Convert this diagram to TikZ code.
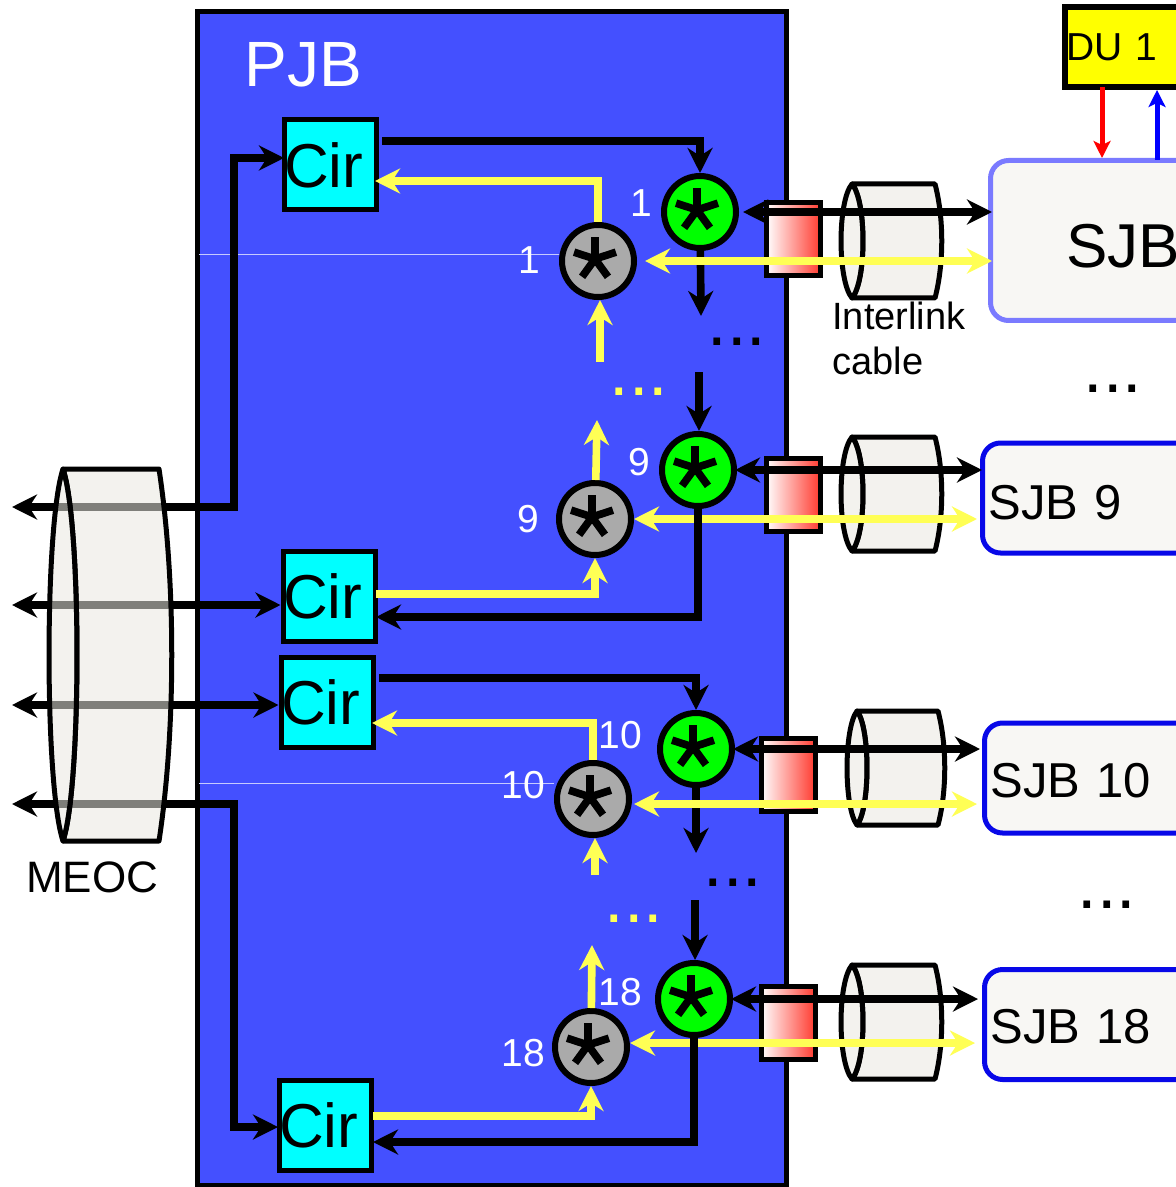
\documentclass[tikz,border=0pt]{standalone}
\usepackage{fontspec}
\setmainfont[WordSpace=0.55]{Liberation Sans}
\usetikzlibrary{arrows.meta}
\definecolor{pjbblue}{HTML}{4450FF}
\definecolor{hubgray}{HTML}{AAAAAA}
\definecolor{hubgreen}{HTML}{00FF00}
\definecolor{circyan}{HTML}{00FFFF}
\definecolor{duyellow}{HTML}{FFFF00}
\definecolor{sigyellow}{HTML}{FFFF55}
\definecolor{sjbsoft}{HTML}{7A7AFF}
\definecolor{sjbblue}{HTML}{0808E8}
\definecolor{boxwhite}{HTML}{F8F7F4}
\definecolor{cablefill}{HTML}{E9E8E0}
\definecolor{linkred}{HTML}{FF3B30}
\newcommand{\fsize}[1]{\fontsize{#1}{#1}\selectfont}
\tikzset{pics/cable/.style n args={4}{code={
    \path[cable body] (0,-#2) -- (#3,-#2) .. controls (#3+#4,-0.4*#2) and (#3+#4,0.4*#2) .. (#3,#2)
        -- (0,#2) .. controls (1.33*#1,0.7*#2) and (1.33*#1,-0.7*#2) .. (0,-#2) -- cycle;
    \path[cable body] (0,-#2) .. controls (-1.33*#1,-0.7*#2) and (-1.33*#1,0.7*#2) .. (0,#2)
        .. controls (1.33*#1,0.7*#2) and (1.33*#1,-0.7*#2) .. (0,-#2) -- cycle;
}}}
\begin{document}
\begin{tikzpicture}[x=0.5pt,y=-0.5pt,>={Stealth[length=12.5pt,width=12.5pt,inset=4pt]},
    cable body/.style={draw=black,line width=2.5pt,line join=round,fill=cablefill,fill opacity=0.55},
    pjb box/.style={rectangle,draw,line width=2.5pt,fill=pjbblue,minimum width=294.5pt,minimum height=586.5pt},
    cir box/.style={rectangle,draw,line width=2.5pt,fill=circyan,inner xsep=0pt,text width=46pt,align=left,minimum height=45pt,font=\fsize{31pt}},
    hub/.style={circle,draw,line width=3pt,minimum size=36pt,inner sep=0pt,
        path picture={\foreach \a in {90,162,234,306,378}
            \draw[line width=3.8pt] ([shift={(-1.5pt,1pt)}]path picture bounding box.center) -- ++(\a:11pt);}},
    green hub/.style={hub,fill=hubgreen},
    gray hub/.style={hub,fill=hubgray},
    link box/.style={rectangle,draw,line width=2.5pt,left color=white,right color=linkred,minimum width=27pt,minimum height=36.5pt},
    sjb box/.style={rectangle,rounded corners=9pt,line width=2.5pt,fill=boxwhite,anchor=west,inner xsep=3pt,text width=140pt,align=left,minimum height=55pt,text height=21pt,text depth=0pt,font=\fsize{24.5pt}},
    blackline/.style={draw=black,line width=3.8pt},
    thickline/.style={draw=black,line width=4pt},
    yellowline/.style={draw=sigyellow,line width=3.8pt},
    thinline/.style={line width=2.5pt,>={Stealth[length=8.5pt,width=8.5pt,inset=2pt]}},
    hairline/.style={draw=white!70!pjbblue,line width=0.35pt},
    num/.style={text=white,inner sep=0pt,font=\fsize{19.5pt}},
    dots/.style={inner sep=0pt,font=\fsize{35pt}}]
    \path[use as bounding box,clip] (0,0) rectangle (1176,1187);

    \node[pjb box] at (491.5,598.5) (pjb) {};
    \coordinate (hairA) at (199,254);
    \coordinate (hairC) at (199,783);

    \node[cir box] at (330,165) (cirA) {Cir};
    \node[cir box] at (329,596) (cirB) {Cir};
    \node[cir box] at (327,702) (cirC) {Cir};
    \node[cir box] at (325,1125) (cirD) {Cir};

    \node[green hub] at (700,212) (green1) {};
    \node[gray hub] at (598,261) (gray1) {};
    \node[green hub] at (698,470) (green9) {};
    \node[gray hub] at (595,519) (gray9) {};
    \node[green hub] at (696,749) (green10) {};
    \node[gray hub] at (593,799) (gray10) {};
    \node[green hub] at (694,999) (green18) {};
    \node[gray hub] at (591,1047) (gray18) {};

    \draw[hairline] (hairA) -- (hairA -| gray1.west);
    \draw[hairline] (hairC) -- (hairC -| gray10.west);

    \node[link box] at (793.5,239) (link1) {};
    \node[link box] at (793,495) (link9) {};
    \node[link box] at (788,775) (link10) {};
    \node[link box] at (788,1023) (link18) {};

    \node[rectangle,draw,line width=3pt,fill=duyellow,anchor=west,inner xsep=0.5pt,text width=70pt,align=left,minimum height=40pt,font=\fsize{19.5pt}] at (1062,47) (du1) {DU 1};
    \node[sjb box,draw=sjbsoft,inner xsep=38pt,minimum height=80pt,text height=27.5pt,font=\fsize{31pt}] at (988,240.5) (sjb1) {SJB};
    \node[sjb box,draw=sjbblue] at (980,498) (sjb9) {SJB 9};
    \node[sjb box,draw=sjbblue,text height=19pt] at (982,778) (sjb10) {SJB 10};
    \node[sjb box,draw=sjbblue,text height=19pt] at (982,1024.5) (sjb18) {SJB 18};

    \pic at (852,241) {cable={11}{57}{83}{9}};
    \pic at (852,494) {cable={11}{57}{83}{9}};
    \pic at (857,768) {cable={10}{57}{81}{9}};
    \pic at (852,1022) {cable={11}{57}{83}{9}};

    \node[text=white,inner sep=0pt,font=\fsize{32pt}] at (303,65) (pjblabel) {PJB};
    \node[num] at (641,203) (num1a) {1};
    \node[num] at (529,260) (num1b) {1};
    \node[num] at (639,462) (num9a) {9};
    \node[num] at (528,519) (num9b) {9};
    \node[num] at (620,735) (num10a) {10};
    \node[num] at (523,785) (num10b) {10};
    \node[num] at (620,992) (num18a) {18};
    \node[num] at (523,1053) (num18b) {18};
    \node[inner sep=0pt,anchor=north west,align=left,font=\fsize{19pt}] at (832,302) (cablelabel) {Interlink\\[3.5pt]cable};
    \node[inner sep=0pt,font=\fsize{22pt}] at (92,877) (meoclabel) {MEOC};

    \node[dots] at (737,342) (dotsA) {...};
    \node[dots,text=sigyellow] at (639,392) (dotsB) {...};
    \node[dots] at (1113,389) (dotsC) {...};
    \node[dots] at (733,883) (dotsD) {...};
    \node[dots,text=sigyellow] at (634,919) (dotsE) {...};
    \node[dots] at (1107,905) (dotsF) {...};

    % MEOC fibres, they run under the cylinder
    \coordinate (meocA) at (12,507);
    \coordinate (meocB) at (12,605);
    \coordinate (meocC) at (12,705);
    \coordinate (meocD) at (12,804);
    \coordinate (trunkA) at (234,507);
    \coordinate (trunkD) at (234,804);
    \coordinate (cirAin) at (284,158);
    \coordinate (cirDin) at (278,1127);
    \draw[thickline,<->] (meocA) -- (trunkA) |- (cirAin);
    \path (meocB) edge[thickline,<->] (meocB -| cirB.west);
    \path (meocC) edge[thickline,<->] (meocC -| cirC.west);
    \draw[thickline,<->] (meocD) -- (trunkD) |- (cirDin);
    \pic at (63,655) {cable={14}{186}{96}{17}};

    % first group
    \coordinate (cirAout) at (382,141);
    \coordinate (cirAback) at (375,181);
    \coordinate (tail1) at (701,316);
    \coordinate (tail9) at (699,372);
    \coordinate (rise1) at (600,362);
    \coordinate (rise9) at (597,420);
    \draw[blackline,->] (cirAout) -| (green1);
    \draw[yellowline,->] (gray1) |- (cirAback);
    \path (green1) edge[blackline,->] (tail1);
    \path (tail9) edge[blackline,->] (tail9 |- green9.north);
    \path (rise1) edge[yellowline,->] (rise1 |- gray1.south);
    \path (gray9) edge[yellowline,->] (rise9);
    \path (green1) edge[blackline,<->,shorten <=2pt,shorten >=-2pt] (green1 -| sjb1.west);
    \path (gray1) edge[yellowline,<->,shorten <=4pt,shorten >=-2pt] (gray1 -| sjb1.west);
    \path (green9) edge[blackline,<->,shorten <=-1pt,shorten >=-1pt] (green9 -| sjb9.west);
    \path (gray9) edge[yellowline,<->,shorten <=0pt,shorten >=1.5pt] (gray9 -| sjb9.west);
    \coordinate (cirBback) at (376,617);
    \coordinate (cirBout) at (376,594);
    \draw[blackline,->] (green9) |- (cirBback);
    \draw[yellowline,->] (cirBout) -| (gray9);

    % second group
    \coordinate (cirCout) at (379,678);
    \coordinate (cirCback) at (372,723);
    \coordinate (tail10) at (696,853);
    \coordinate (tail18) at (695,900);
    \coordinate (rise10) at (595,875);
    \coordinate (rise18) at (592,945);
    \coordinate (yellow10) at (0,804);
    \coordinate (yellow18) at (0,1043);
    \draw[blackline,->] (cirCout) -| (green10);
    \draw[yellowline,->] (gray10) |- (cirCback);
    \path (green10) edge[blackline,->] (tail10);
    \path (tail18) edge[blackline,->] (tail18 |- green18.north);
    \path (rise10) edge[yellowline,->] (rise10 |- gray10.south);
    \path (gray18) edge[yellowline,->] (rise18);
    \path (green10) edge[blackline,<->,shorten <=-1pt,shorten >=1pt] (green10 -| sjb10.west);
    \path (yellow10 -| gray10.east) edge[yellowline,<->,shorten <=1pt,shorten >=2.5pt] (yellow10 -| sjb10.west);
    \path (green18) edge[blackline,<->,shorten <=-1pt,shorten >=2pt] (green18 -| sjb18.west);
    \path (yellow18 -| gray18.east) edge[yellowline,<->,shorten <=0pt,shorten >=3.5pt] (yellow18 -| sjb18.west);
    \coordinate (cirDback) at (373,1142);
    \coordinate (cirDout) at (373,1116);
    \draw[blackline,->] (green18) |- (cirDback);
    \draw[yellowline,->] (cirDout) -| (gray18);

    % DU 1 links
    \coordinate (redfrom) at (1102,87);
    \coordinate (bluefrom) at (1157,160);
    \draw[thinline,red,->] (redfrom) -- (redfrom |- sjb1.north);
    \draw[thinline,blue,->] (bluefrom) -- (bluefrom |- du1.south);
\end{tikzpicture}
\end{document}
